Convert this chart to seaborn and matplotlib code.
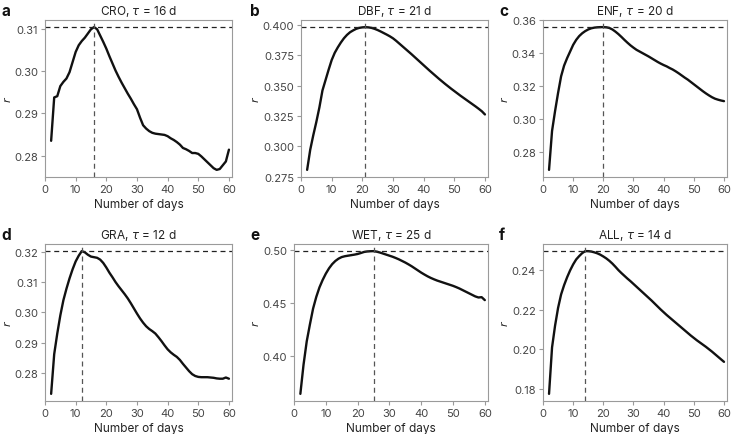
import numpy as np
import matplotlib
matplotlib.use('Agg')
import matplotlib.pyplot as plt
import seaborn as sns

days = np.arange(2, 61)

cro = [0.2835, 0.2938, 0.2941, 0.2965, 0.2975, 0.2983, 0.2998, 0.3022, 0.3046, 0.3062,
       0.3072, 0.3080, 0.3090, 0.3100, 0.3105, 0.3100, 0.3085, 0.3070, 0.3054, 0.3036,
       0.3019, 0.3002, 0.2987, 0.2973, 0.2960, 0.2947, 0.2935, 0.2922, 0.2910, 0.2890,
       0.2872, 0.2864, 0.2858, 0.2854, 0.2852, 0.2851, 0.2850, 0.2849, 0.2846, 0.2841,
       0.2837, 0.2832, 0.2826, 0.2818, 0.2815, 0.2811, 0.2806, 0.2806, 0.2804, 0.2798,
       0.2791, 0.2784, 0.2777, 0.2770, 0.2766, 0.2768, 0.2777, 0.2786, 0.2814]
dbf = [0.2805, 0.2970, 0.3090, 0.3200, 0.3320, 0.3460, 0.3545, 0.3630, 0.3710, 0.3770,
       0.3815, 0.3855, 0.3890, 0.3918, 0.3940, 0.3955, 0.3968, 0.3976, 0.3980, 0.3982,
       0.3980, 0.3976, 0.3968, 0.3958, 0.3946, 0.3933, 0.3920, 0.3906, 0.3890, 0.3870,
       0.3848, 0.3826, 0.3804, 0.3782, 0.3760, 0.3737, 0.3714, 0.3691, 0.3668, 0.3645,
       0.3622, 0.3600, 0.3578, 0.3556, 0.3535, 0.3514, 0.3494, 0.3474, 0.3455, 0.3436,
       0.3417, 0.3399, 0.3381, 0.3363, 0.3345, 0.3327, 0.3308, 0.3288, 0.3262]
enf = [0.2695, 0.2930, 0.3050, 0.3160, 0.3260, 0.3325, 0.3370, 0.3410, 0.3450, 0.3480,
       0.3503, 0.3520, 0.3533, 0.3543, 0.3550, 0.3554, 0.3556, 0.3557, 0.3557, 0.3556,
       0.3552, 0.3543, 0.3530, 0.3515, 0.3498, 0.3480, 0.3463, 0.3447, 0.3433, 0.3420,
       0.3410, 0.3400, 0.3390, 0.3380, 0.3369, 0.3358, 0.3347, 0.3337, 0.3328, 0.3320,
       0.3310, 0.3301, 0.3290, 0.3278, 0.3265, 0.3252, 0.3240, 0.3226, 0.3212, 0.3198,
       0.3184, 0.3170, 0.3157, 0.3145, 0.3134, 0.3125, 0.3119, 0.3114, 0.3110]
gra = [0.2731, 0.2862, 0.2930, 0.2990, 0.3040, 0.3078, 0.3112, 0.3142, 0.3168, 0.3187,
       0.3202, 0.3198, 0.3190, 0.3184, 0.3182, 0.3180, 0.3174, 0.3163, 0.3148, 0.3131,
       0.3116, 0.3100, 0.3086, 0.3073, 0.3060, 0.3046, 0.3030, 0.3013, 0.2996, 0.2980,
       0.2966, 0.2954, 0.2945, 0.2938, 0.2930, 0.2918, 0.2905, 0.2891, 0.2878, 0.2868,
       0.2860, 0.2853, 0.2843, 0.2830, 0.2818, 0.2806, 0.2796, 0.2790, 0.2787, 0.2786,
       0.2786, 0.2786, 0.2785, 0.2784, 0.2782, 0.2781, 0.2781, 0.2785, 0.2781]
wet = [0.3644, 0.3920, 0.4140, 0.4300, 0.4450, 0.4560, 0.4650, 0.4720, 0.4780, 0.4830,
       0.4870, 0.4900, 0.4922, 0.4937, 0.4945, 0.4950, 0.4955, 0.4960, 0.4966, 0.4975,
       0.4985, 0.4990, 0.4992, 0.4993, 0.4988, 0.4980, 0.4970, 0.4960, 0.4950, 0.4940,
       0.4928, 0.4915, 0.4900, 0.4885, 0.4868, 0.4850, 0.4830, 0.4810, 0.4790, 0.4772,
       0.4755, 0.4740, 0.4727, 0.4715, 0.4705, 0.4695, 0.4685, 0.4675, 0.4665, 0.4653,
       0.4640, 0.4625, 0.4610, 0.4595, 0.4580, 0.4565, 0.4555, 0.4558, 0.4530]
all_ = [0.1775, 0.2010, 0.2120, 0.2210, 0.2278, 0.2325, 0.2365, 0.2400, 0.2430, 0.2455,
        0.2472, 0.2487, 0.2497, 0.2497, 0.2495, 0.2491, 0.2486, 0.2479, 0.2470, 0.2460,
        0.2448, 0.2434, 0.2418, 0.2401, 0.2386, 0.2372, 0.2358, 0.2345, 0.2331, 0.2317,
        0.2303, 0.2289, 0.2275, 0.2261, 0.2247, 0.2232, 0.2217, 0.2202, 0.2188, 0.2174,
        0.2161, 0.2148, 0.2135, 0.2122, 0.2109, 0.2096, 0.2083, 0.2070, 0.2058, 0.2046,
        0.2035, 0.2024, 0.2013, 0.2001, 0.1989, 0.1976, 0.1963, 0.1950, 0.1937]

names = ['CRO', 'DBF', 'ENF', 'GRA', 'WET', 'ALL']
series = [cro, dbf, enf, gra, wet, all_]
taus = [16, 21, 20, 12, 25, 14]
letters = ['a', 'b', 'c', 'd', 'e', 'f']
yticks = [
    [0.28, 0.29, 0.30, 0.31],
    [0.275, 0.300, 0.325, 0.350, 0.375, 0.400],
    [0.28, 0.30, 0.32, 0.34, 0.36],
    [0.28, 0.29, 0.30, 0.31, 0.32],
    [0.40, 0.45, 0.50],
    [0.18, 0.20, 0.22, 0.24],
]
ytick_fmt = ['%.2f', '%.3f', '%.2f', '%.2f', '%.2f', '%.2f']

sns.set_style('ticks')
plt.rcParams['font.family'] = ['Inter', 'DejaVu Sans']
plt.rcParams['mathtext.fontset'] = 'dejavusans'

W, H = 732, 435
fig = plt.figure(figsize=(W / 100, H / 100), dpi=100)

# axes boxes in pixels: left, right, top, bottom
boxes = [
    (45, 232, 21, 178), (301, 488, 21, 178), (543, 727, 21, 178),
    (45, 232, 245, 402), (294, 488, 245, 402), (543, 727, 245, 402),
]
letter_x = [1, 250, 499, 1, 250, 499]

grey = '#9a9a9a'
for i, (l, r, t, b) in enumerate(boxes):
    ax = fig.add_axes([l / W, (H - b) / H, (r - l) / W, (b - t) / H])
    vals = np.array(series[i])
    sns.lineplot(x=days, y=vals, ax=ax, color='#111111', linewidth=1.7)
    peak = vals.max()
    ax.set_xlim(0, 61)
    lo, hi = vals.min(), vals.max()
    pad = (hi - lo) * 0.05
    ax.set_ylim(lo - pad, hi + pad)
    ax.axhline(peak, color='#222222', linestyle=(0, (4, 3)), linewidth=0.9)
    ax.axvline(taus[i], color='#555555', linestyle=(0, (4, 3)), linewidth=0.9)
    ax.set_xticks([0, 10, 20, 30, 40, 50, 60])
    ax.set_yticks(yticks[i])
    ax.set_yticklabels([ytick_fmt[i] % v for v in yticks[i]])
    for s in ax.spines.values():
        s.set_color(grey)
        s.set_linewidth(0.8)
    ax.tick_params(colors=grey, labelcolor='#444444', labelsize=8,
                   length=3, width=0.8, pad=2)
    ax.set_xlabel('Number of days', fontsize=8.5, color='#222222', labelpad=3)
    ax.set_ylabel(r'$r$', fontsize=8, color='#222222', labelpad=1)
    ax.set_title(r'%s, $\tau$ = %d d' % (names[i], taus[i]), fontsize=8.5,
                 color='#222222', pad=4)
    fig.text(letter_x[i] / W, 1 - (t - 17) / H, letters[i], fontsize=11,
             fontweight='bold', va='top', ha='left', color='#111111')

fig.savefig('out.png', dpi=100)
